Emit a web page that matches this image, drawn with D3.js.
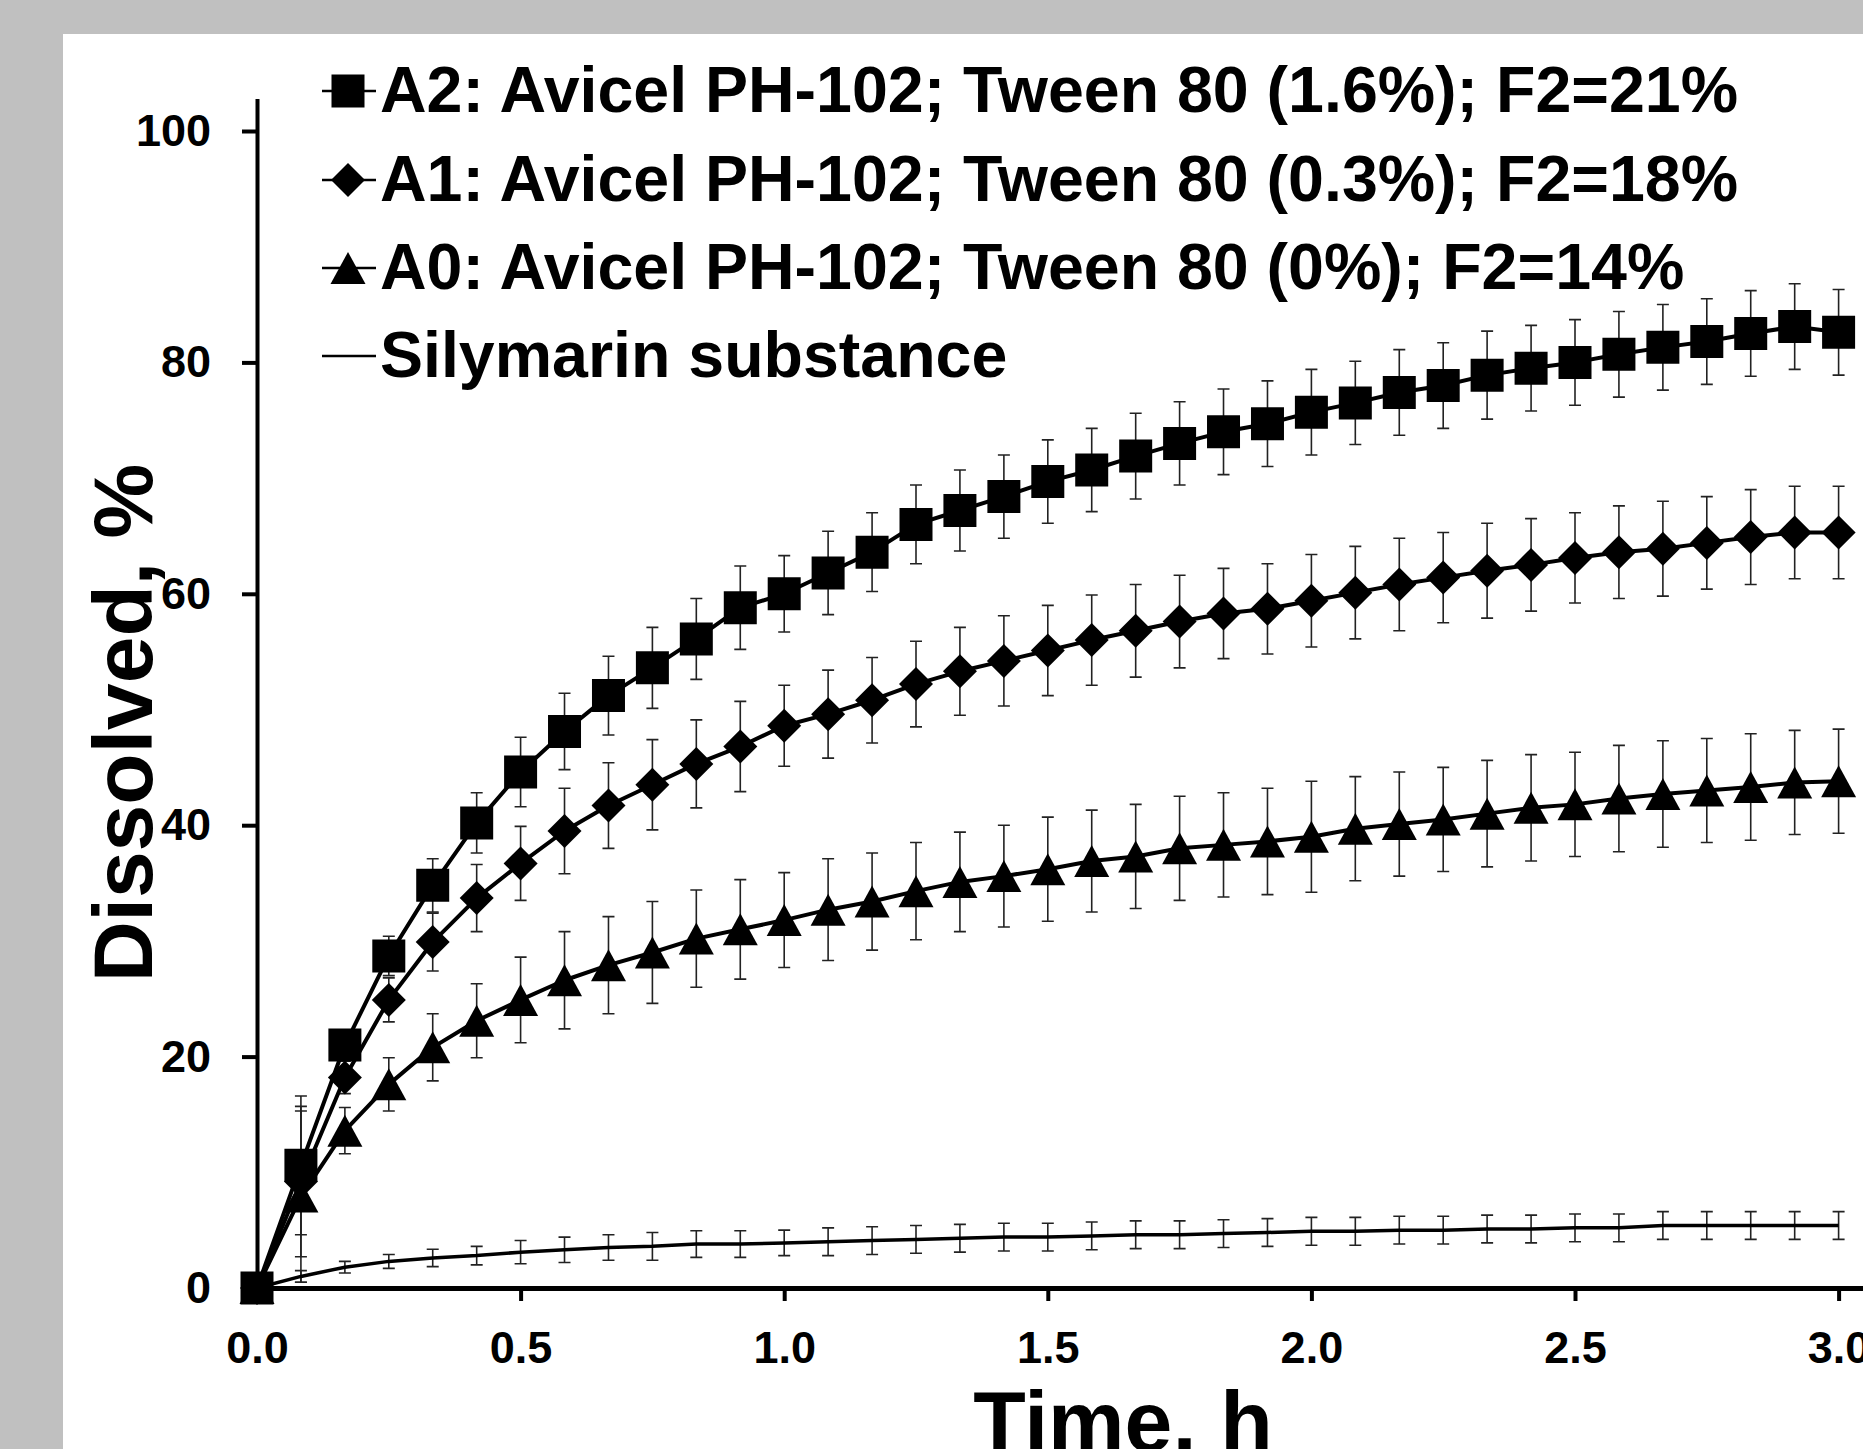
<!DOCTYPE html>
<html>
<head>
<meta charset="utf-8">
<script src="https://cdn.jsdelivr.net/npm/d3@7"></script>
<style>
  html, body { margin: 0; padding: 0; background: #c0c0c0; }
  svg { display: block; }
  text { font-family: "Liberation Sans", Arial, sans-serif; font-weight: bold; fill: #000; }
</style>
</head>
<body>
<svg id="chart" width="1863" height="1449"></svg>
<script>
// ---- Data (time in hours, dissolved in %) ----
const timeH = [0, 0.0833, 0.1667, 0.25, 0.3333, 0.4167, 0.5, 0.5833, 0.6667, 0.75,
  0.8333, 0.9167, 1.0, 1.0833, 1.1667, 1.25, 1.3333, 1.4167, 1.5, 1.5833,
  1.6667, 1.75, 1.8333, 1.9167, 2.0, 2.0833, 2.1667, 2.25, 2.3333, 2.4167,
  2.5, 2.5833, 2.6667, 2.75, 2.8333, 2.9167, 3.0];

const a2Values = [0, 10.6, 21.0, 28.7, 34.8, 40.2, 44.6, 48.1, 51.2, 53.6,
  56.1, 58.8, 60.0, 61.8, 63.6, 66.0, 67.2, 68.4, 69.7, 70.7,
  71.9, 73.0, 74.0, 74.7, 75.7, 76.5, 77.4, 78.0, 78.9, 79.5,
  80.0, 80.7, 81.3, 81.8, 82.5, 83.1, 82.6];
const a2Errors = [0, 6.0, 1.3, 1.7, 2.3, 2.6, 3.0, 3.3, 3.4, 3.5,
  3.5, 3.6, 3.3, 3.6, 3.4, 3.4, 3.5, 3.6, 3.6, 3.6,
  3.7, 3.6, 3.7, 3.7, 3.7, 3.6, 3.7, 3.7, 3.8, 3.7,
  3.7, 3.7, 3.7, 3.7, 3.7, 3.7, 3.7];

const a1Values = [0, 9.2, 18.2, 24.9, 29.9, 33.7, 36.7, 39.5, 41.7, 43.5,
  45.3, 46.8, 48.6, 49.6, 50.8, 52.2, 53.3, 54.2, 55.1, 56.0,
  56.8, 57.6, 58.3, 58.7, 59.4, 60.1, 60.8, 61.4, 62.0, 62.5,
  63.1, 63.6, 63.9, 64.4, 64.9, 65.3, 65.3];
const a1Errors = [0, 6.5, 1.4, 1.9, 2.5, 2.9, 3.2, 3.7, 3.7, 3.9,
  3.8, 3.9, 3.5, 3.8, 3.7, 3.7, 3.8, 3.9, 3.9, 3.9,
  4.0, 4.0, 3.9, 3.9, 4.0, 4.0, 4.0, 3.9, 4.1, 4.0,
  3.9, 4.0, 4.1, 4.0, 4.1, 4.0, 4.0];

const a0Values = [0, 7.9, 13.6, 17.6, 20.8, 23.1, 24.9, 26.6, 27.9, 29.0,
  30.2, 31.0, 31.8, 32.7, 33.4, 34.3, 35.1, 35.6, 36.2, 36.9,
  37.3, 38.0, 38.3, 38.6, 39.0, 39.7, 40.1, 40.5, 41.0, 41.5,
  41.8, 42.3, 42.7, 43.0, 43.3, 43.7, 43.8];
const a0Errors = [0, 7.4, 2.0, 2.3, 2.9, 3.2, 3.7, 4.2, 4.2, 4.4,
  4.2, 4.3, 4.1, 4.4, 4.2, 4.2, 4.3, 4.4, 4.5, 4.4,
  4.5, 4.5, 4.5, 4.6, 4.8, 4.5, 4.5, 4.5, 4.6, 4.6,
  4.5, 4.6, 4.6, 4.5, 4.6, 4.5, 4.5];

const silyValues = [0, 1.0, 1.8, 2.3, 2.6, 2.8, 3.1, 3.3, 3.5, 3.6,
  3.8, 3.8, 3.9, 4.0, 4.1, 4.2, 4.3, 4.4, 4.4, 4.5,
  4.6, 4.6, 4.7, 4.8, 4.9, 4.9, 5.0, 5.0, 5.1, 5.1,
  5.2, 5.2, 5.4, 5.4, 5.4, 5.4, 5.4];
const silyErrors = [0, 0.5, 0.5, 0.6, 0.75, 0.8, 1.0, 1.1, 1.1, 1.2,
  1.15, 1.15, 1.1, 1.2, 1.2, 1.2, 1.2, 1.2, 1.2, 1.2,
  1.2, 1.2, 1.2, 1.2, 1.2, 1.2, 1.2, 1.2, 1.2, 1.2,
  1.2, 1.2, 1.2, 1.2, 1.2, 1.2, 1.2];

const seriesNames = [
  "A2: Avicel PH-102; Tween 80 (1.6%); F2=21%",
  "A1: Avicel PH-102; Tween 80 (0.3%); F2=18%",
  "A0: Avicel PH-102; Tween 80 (0%); F2=14%",
  "Silymarin substance"
];
const seriesMarkers = ["square", "diamond", "triangle", "none"];
const xTickValues = [0, 0.5, 1.0, 1.5, 2.0, 2.5, 3.0];
const yTickValues = [0, 20, 40, 60, 80, 100];
const xTitle = "Time, h";
const yTitle = "Dissolved, %";

// ---- Build ----
const W = 1863, H = 1449;
const svg = d3.select("#chart");

svg.append("rect").attr("x", 0).attr("y", 0).attr("width", W).attr("height", H).attr("fill", "#c0c0c0");
svg.append("rect").attr("x", 63).attr("y", 34).attr("width", W - 63).attr("height", H - 34).attr("fill", "#ffffff");

const x0 = 257, y0 = 1288, pxPerH = 527.2, pxPerPct = 11.57;
const x = d3.scaleLinear().domain([0, 3.05]).range([x0, x0 + 3.05 * pxPerH]);
const y = d3.scaleLinear().domain([0, 102.8]).range([y0, y0 - 102.8 * pxPerPct]);

const series = [
  { name: seriesNames[0], marker: seriesMarkers[0], v: a2Values, e: a2Errors, lw: 4 },
  { name: seriesNames[1], marker: seriesMarkers[1], v: a1Values, e: a1Errors, lw: 4 },
  { name: seriesNames[2], marker: seriesMarkers[2], v: a0Values, e: a0Errors, lw: 4 },
  { name: seriesNames[3], marker: seriesMarkers[3], v: silyValues, e: silyErrors, lw: 3.5 }
];

function markerPath(type) {
  if (type === "square") return "M-16.5,-16.5H16.5V16.5H-16.5Z";
  if (type === "diamond") return "M0,-17L17,0L0,17L-17,0Z";
  if (type === "triangle") return "M0,-16L17.5,16L-17.5,16Z";
  return null;
}

// Error bars
const capHalf = 6;
const errG = svg.append("g").attr("stroke", "#222").attr("stroke-width", 1.6).attr("fill", "none");
series.forEach(s => {
  timeH.forEach((t, i) => {
    if (!s.e[i]) return;
    const cx = x(t), top = y(s.v[i] + s.e[i]), bot = y(s.v[i] - s.e[i]);
    errG.append("path").attr("d",
      `M${cx},${top}V${bot}M${cx - capHalf},${top}H${cx + capHalf}M${cx - capHalf},${bot}H${cx + capHalf}`);
  });
});

// Lines
const line = d3.line().x(d => x(d[0])).y(d => y(d[1]));
series.slice().reverse().forEach(s => {
  svg.append("path")
    .datum(timeH.map((t, i) => [t, s.v[i]]))
    .attr("d", line).attr("fill", "none").attr("stroke", "#000")
    .attr("stroke-width", s.lw).attr("stroke-linejoin", "round");
});

// Markers (A0 first, A2 on top)
[2, 1, 0].forEach(k => {
  const s = series[k];
  svg.append("g").selectAll("path").data(timeH.map((t, i) => [t, s.v[i]])).join("path")
    .attr("d", markerPath(s.marker))
    .attr("transform", d => `translate(${x(d[0])},${y(d[1])})`)
    .attr("fill", "#000");
});

// Axes
const xAxis = d3.axisBottom(x).tickValues(xTickValues).tickFormat(d3.format(".1f"))
  .tickSize(13).tickSizeOuter(0).tickPadding(30);
const gx = svg.append("g").attr("transform", `translate(0,${y0})`).call(xAxis);
gx.select(".domain").attr("stroke", "#000").attr("stroke-width", 5);
gx.selectAll(".tick line").attr("stroke", "#000").attr("stroke-width", 4);
gx.selectAll(".tick text").attr("font-size", 45).attr("font-family", "Liberation Sans, Arial, sans-serif").attr("font-weight", "bold").attr("fill", "#000");

const yAxis = d3.axisLeft(y).tickValues(yTickValues).tickFormat(d3.format("d"))
  .tickSize(15).tickSizeOuter(0).tickPadding(31);
const gy = svg.append("g").attr("transform", `translate(${x0},0)`).call(yAxis);
gy.select(".domain").attr("stroke", "#000").attr("stroke-width", 4);
gy.selectAll(".tick line").attr("stroke", "#000").attr("stroke-width", 4);
gy.selectAll(".tick text").attr("font-size", 45).attr("font-family", "Liberation Sans, Arial, sans-serif").attr("font-weight", "bold").attr("fill", "#000");

// Axis titles
svg.append("text").attr("x", 1123).attr("y", 1451).attr("text-anchor", "middle")
  .attr("font-size", 86).text(xTitle);
svg.append("text").attr("transform", "translate(152,723) rotate(-90)").attr("text-anchor", "middle")
  .attr("font-size", 84).text(yTitle);

// Legend
const legBase = [112, 201, 289, 377];
const leg = svg.append("g");
series.forEach((s, i) => {
  const ly = legBase[i] - 21;
  leg.append("line").attr("x1", 322).attr("x2", 376).attr("y1", ly).attr("y2", ly)
    .attr("stroke", "#000").attr("stroke-width", 2.5);
  const mp = markerPath(s.marker);
  if (mp) leg.append("path").attr("d", mp).attr("transform", `translate(348,${ly})`).attr("fill", "#000");
  leg.append("text").attr("x", 380).attr("y", legBase[i]).attr("font-size", 64.5).text(s.name);
});
</script>
</body>
</html>
